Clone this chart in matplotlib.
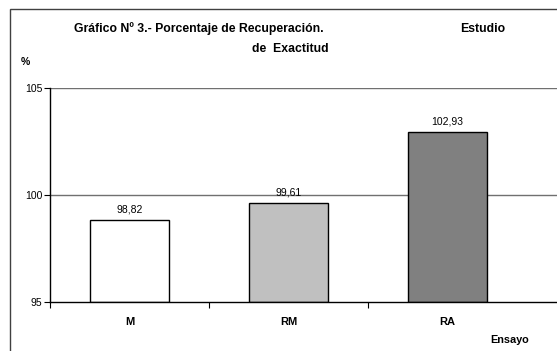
import matplotlib
matplotlib.use("Agg")
import matplotlib.pyplot as plt
from matplotlib.patches import Rectangle

categories = ['M', 'RM', 'RA']
recovery = [98.82, 99.61, 102.93]
value_labels = ['98,82', '99,61', '102,93']
bar_colors = ['#FFFFFF', '#C0C0C0', '#808080']
y_ticks = [95, 100, 105]

plt.rcParams['font.family'] = ['Liberation Sans', 'DejaVu Sans']

W, H = 557, 351
fig = plt.figure(figsize=(W / 100, H / 100), dpi=100)

# outer chart border, running off the right/bottom of the image
fig.patches.append(Rectangle((9.5 / W, -0.1), 1.2, (H - 8.5) / H + 0.1,
                             transform=fig.transFigure, fill=False,
                             edgecolor='#404040', linewidth=1.0, clip_on=False))

ax = fig.add_axes([50 / W, (H - 302) / H, (W - 50) / W, (302 - 88) / H])
x = range(len(categories))
ax.bar(x, [v - 95 for v in recovery], bottom=95, width=0.5, color=bar_colors,
       edgecolor='black', linewidth=1.0, zorder=3)

ax.set_xlim(-0.5, -0.5 + (W - 50) / 159)
ax.set_ylim(95, 105)
ax.set_yticks(y_ticks)
ax.set_yticklabels([str(t) for t in y_ticks], fontsize=7.5)
ax.set_xticks([-0.5, 0.5, 1.5])
ax.set_xticklabels([])
ax.tick_params(axis='both', direction='out', length=4, width=0.8, pad=1.5)

for i, c in enumerate(categories):
    ax.text(i, 94.05, c, ha='center', va='center', fontsize=8, fontweight='bold')

for i, v in enumerate(recovery):
    ax.text(i, v + 0.25, value_labels[i], ha='center', va='bottom', fontsize=7.5)

for t in [100, 105]:
    ax.axhline(t, color='#707070', linewidth=1.0, zorder=1)

for s in ['top', 'right']:
    ax.spines[s].set_visible(False)
for s in ['left', 'bottom']:
    ax.spines[s].set_linewidth(1.0)
    ax.spines[s].set_zorder(4)

fig.text(74 / W, 1 - 29 / H, 'Gráfico Nº 3.- Porcentaje de Recuperación.',
         ha='left', va='center', fontsize=8.8, fontweight='bold')
fig.text(252 / W, 1 - 49 / H, 'de  Exactitud',
         ha='left', va='center', fontsize=8.8, fontweight='bold')
fig.text(460 / W, 1 - 29 / H, 'Estudio',
         ha='left', va='center', fontsize=8.8, fontweight='bold')
fig.text(21 / W, 1 - 62 / H, '%', ha='left', va='center', fontsize=7.5, fontweight='bold')
fig.text(490 / W, 1 - 340 / H, 'Ensayo', ha='left', va='center', fontsize=7.8, fontweight='bold')

fig.savefig('out.png', dpi=100)
